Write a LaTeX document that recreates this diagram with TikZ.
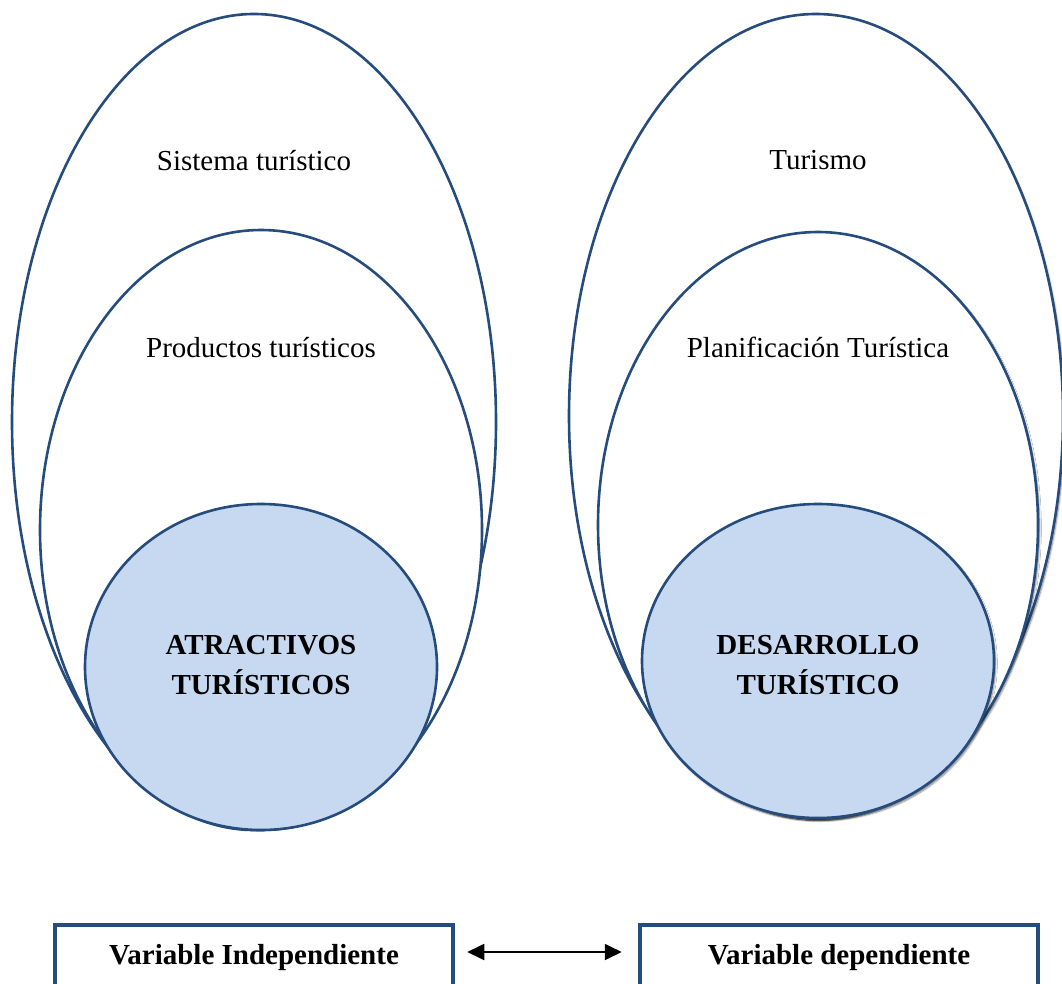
\documentclass[tikz,border=0pt]{standalone}
\usepackage{fontspec}
\setmainfont{Liberation Serif}
\usetikzlibrary{shapes.geometric,arrows.meta,shadows.blur}
\definecolor{frame}{RGB}{37,76,125}
\definecolor{core}{RGB}{198,217,241}
\tikzset{headtip/.tip={Triangle[length=17pt 0,width=16pt 0]}}
\begin{document}
\begin{tikzpicture}[x=1pt,y=-1pt,
  ring/.style={ellipse,draw=frame,line width=2.6pt,fill=white,inner sep=0pt},
  corering/.style={ring,fill=core},
  soft/.style={blur shadow={shadow xshift=1.5pt,shadow yshift=-2.5pt,shadow blur steps=6,shadow opacity=50}},
  lbl/.style={font=\fontsize{29}{40}\selectfont,align=center},
  blbl/.style={lbl,font=\fontsize{29}{40}\selectfont\bfseries},
  varbox/.style={draw=frame,line width=4.5pt,fill=white,minimum width=398pt,minimum height=66pt,inner sep=0pt,font=\fontsize{29}{40}\selectfont\bfseries}]
\useasboundingbox (0,0) rectangle (1062,984);

% independent variable: nested rings
\node[ring,minimum width=484pt,minimum height=816pt] (lout) at (254,422) {};
\node[ring,minimum width=442pt,minimum height=600pt] (lmid) at (261,530) {};
\node[corering,minimum width=352pt,minimum height=326pt] (lcore) at (261,667) {};
\node[lbl] (ltxt1) at (254,161) {Sistema turístico};
\node[lbl] (ltxt2) at (261,348) {Productos turísticos};
\node[blbl] (ltxt3) at (261,665) {ATRACTIVOS\\TURÍSTICOS};

% dependent variable: nested rings with soft shadows
\node[ring,soft,minimum width=494pt,minimum height=804pt] (rout) at (816,416) {};
\node[ring,soft,minimum width=440pt,minimum height=586pt] (rmid) at (818,525) {};
\node[corering,soft,minimum width=352pt,minimum height=314pt] (rcore) at (818,661) {};
\node[lbl] (rtxt1) at (818,160) {Turismo};
\node[lbl] (rtxt2) at (818,347) {Planificación Turística};
\node[blbl] (rtxt3) at (818,665) {DESARROLLO\\TURÍSTICO};

% variable boxes and the relation between them
\node[varbox] (lbox) at (254,958) {Variable Independiente};
\node[varbox] (rbox) at (839,958) {Variable dependiente};
\draw[headtip-headtip,line width=1.8pt,
  shorten <=12pt,shorten >=16pt] (lbox.east |- 0,952) -- (rbox.west |- 0,952);
\end{tikzpicture}
\end{document}
